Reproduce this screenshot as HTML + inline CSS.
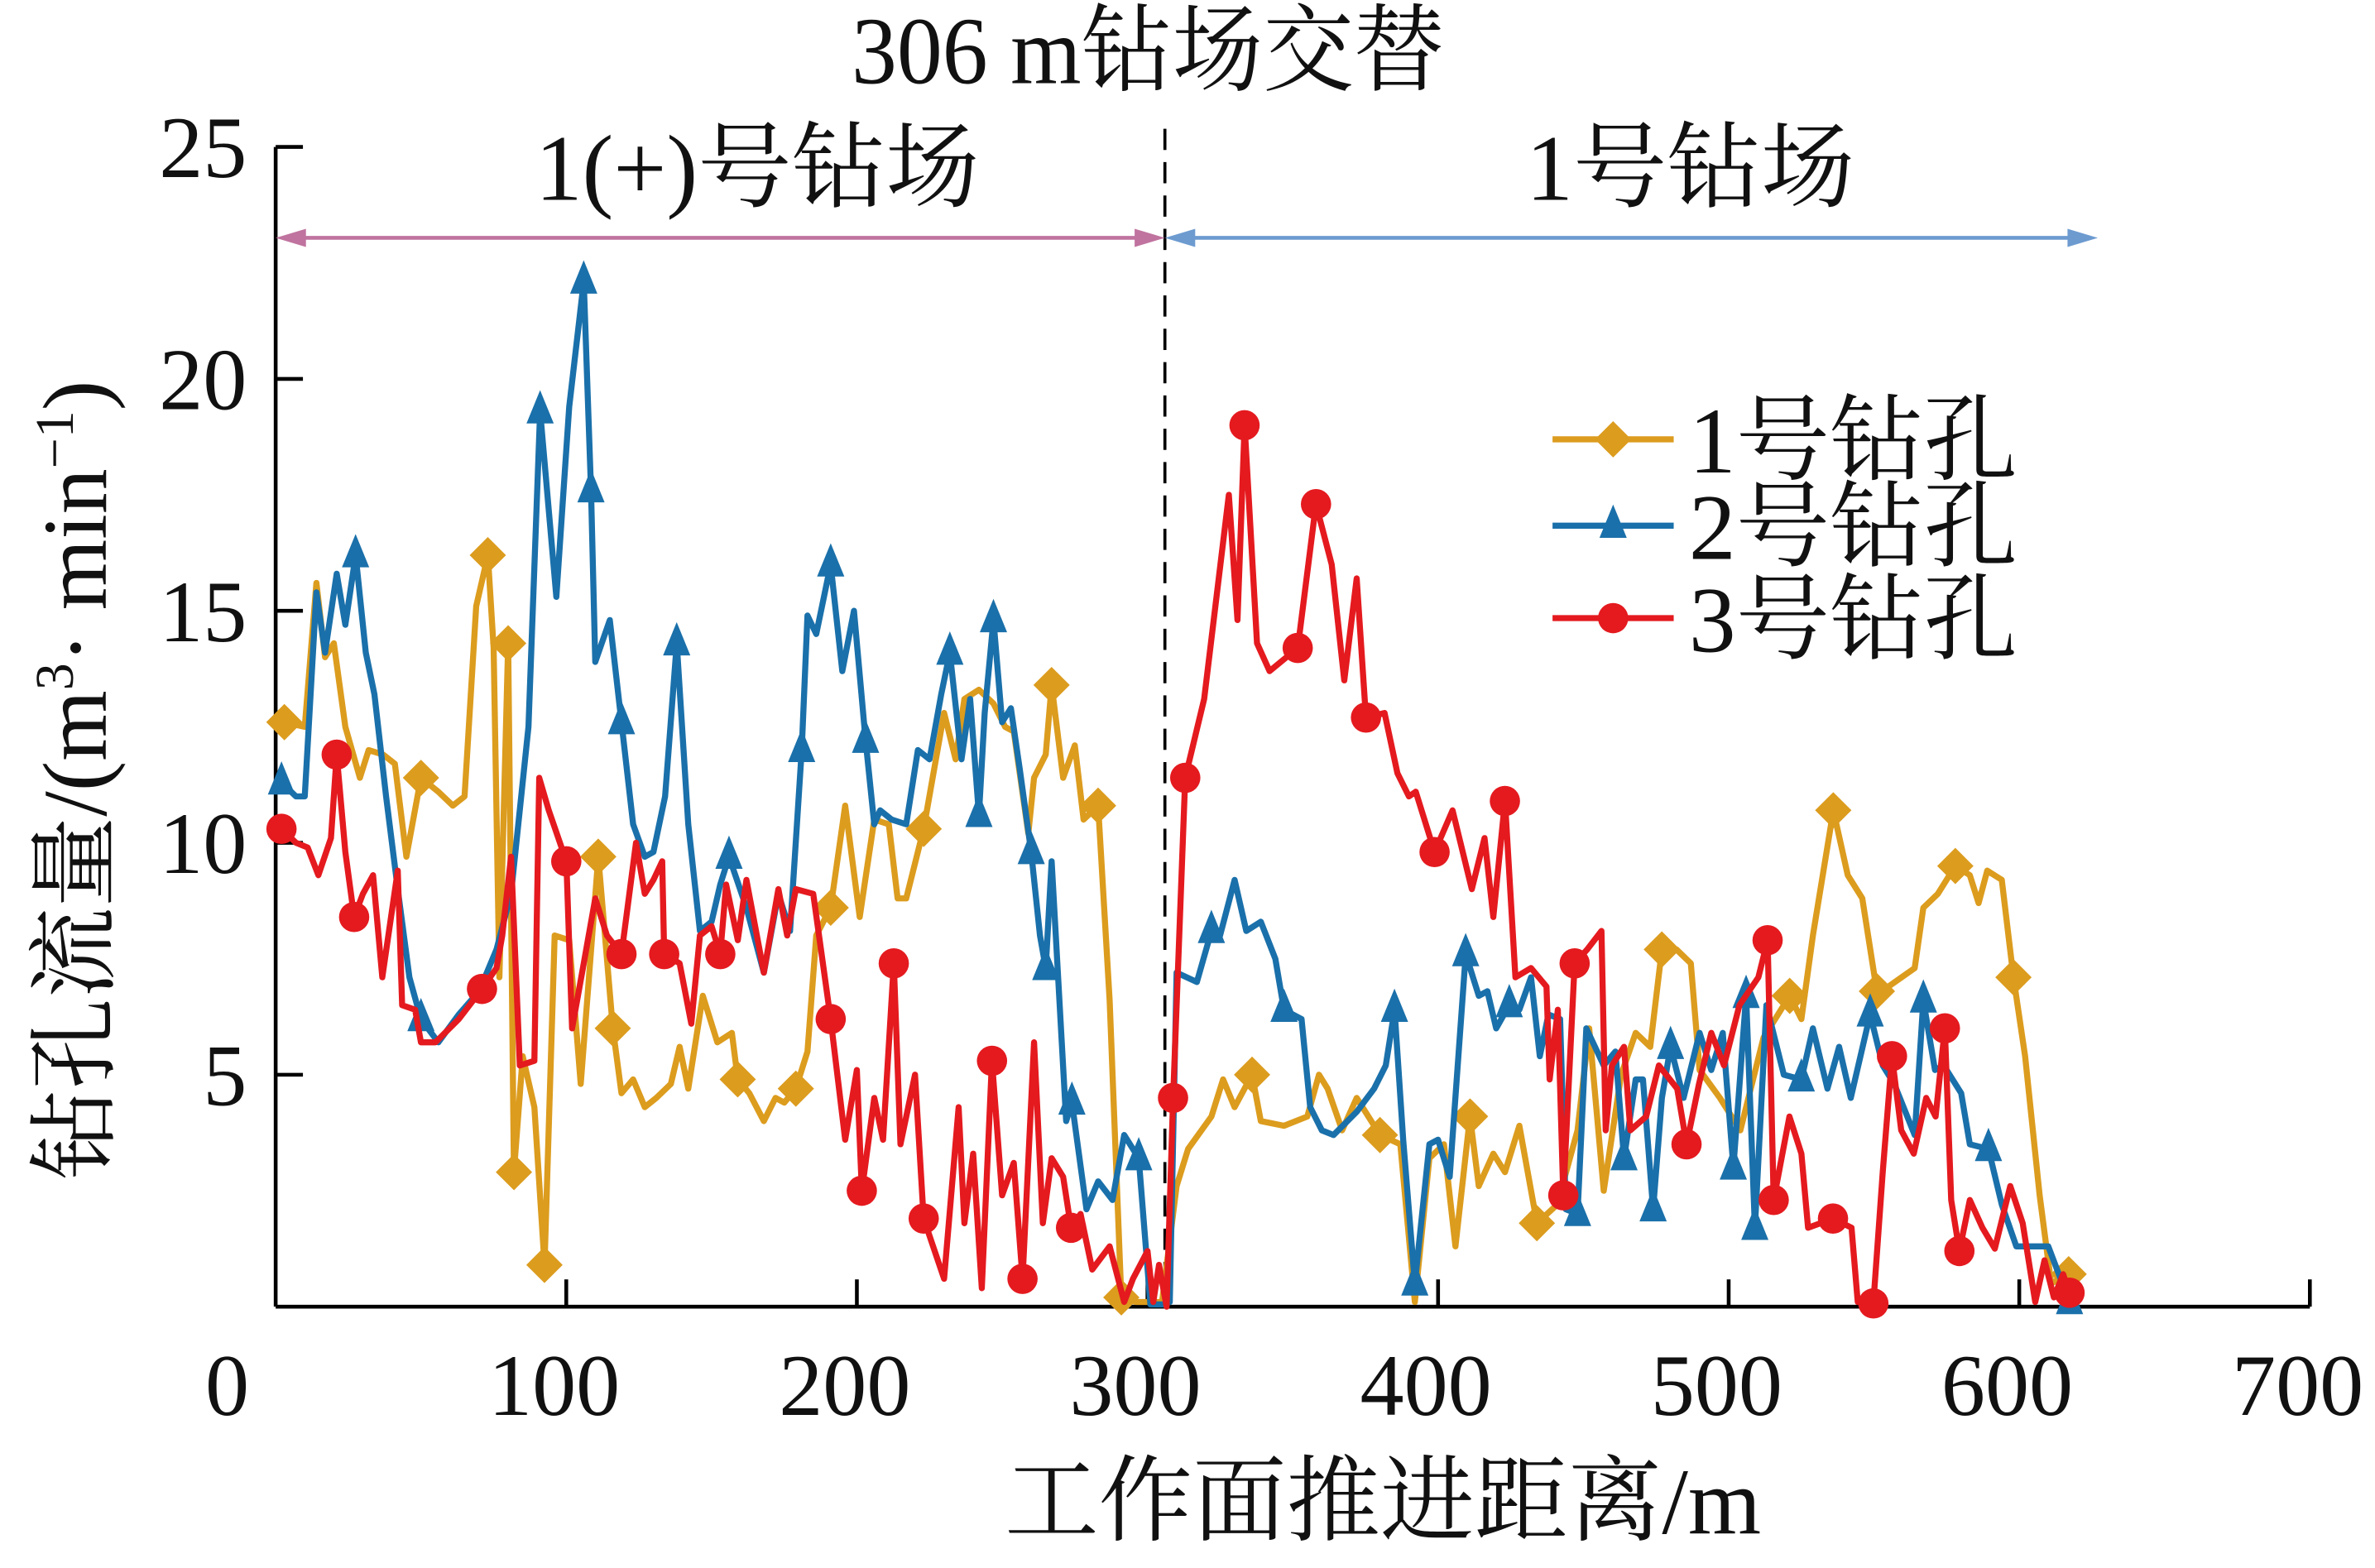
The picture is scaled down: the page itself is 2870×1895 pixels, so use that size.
<!DOCTYPE html>
<html><head><meta charset="utf-8"><style>
html,body{margin:0;padding:0;background:#fff;}
svg{display:block;}
text{font-family:"Liberation Serif","Noto Serif CJK SC","Noto Sans CJK SC",serif;fill:#111;}
</style></head><body>
<svg id="chart" width="2870" height="1895" viewBox="0 0 1568 1035" preserveAspectRatio="none" xmlns="http://www.w3.org/2000/svg">
<g id="axes"></g>
<g id="series"></g>
<text x="758" y="55" font-size="60" text-anchor="middle" transform="translate(758,55) scale(1,1.05) translate(-758,-55)">306 m钻场交替</text>
<text x="500" y="132" font-size="62" text-anchor="middle">1(+)号钻场</text>
<text x="1116" y="132" font-size="62" text-anchor="middle">1号钻场</text>
<text x="913" y="1012" font-size="62" text-anchor="middle">工作面推进距离/m</text>
<text transform="translate(70,515) rotate(-90)" font-size="60" text-anchor="middle">钻孔流量/(m<tspan font-size="36" dy="-22">3</tspan><tspan dy="22">· min</tspan><tspan font-size="36" dy="-22">−1</tspan><tspan dy="22">)</tspan></text>
</svg>
<script>
const xTicks=[0,100,200,300,400,500,600,700];
const yTicks=[5,10,15,20,25];
const switchX=306;
const x1=[3,10,14,17,20,24,29,32,37,41,45,50,56,61,65,69,73,75,77,80,82,85,89,92.5,96,101,105,111,116,119,123,127,131,136,139,142,147,152,157,159,163,168,172,175,179,183,186,191,196,201,206,211,214,217,223,230,234,237,242,247,251,254,259,261,265,267,271,275,278,283,287,291,296,305,310,314,322,326,330,336,339,347,355,359,362,367,372,380,387,392,397,402,406,411,414,419,423,428,434,441,448,452,457,463,468,473,477,482,487,490,497,504,512,521,525,529,536,541,546,551,555,564,567,572,578,583,586,589,594,598,602,607,611,617];
const y1=[12.6,12.5,15.6,14.0,14.3,12.5,11.4,12.0,11.9,11.7,9.7,11.4,11.1,10.8,11.0,15.1,16.2,14.2,7.1,14.3,2.9,5.4,4.3,0.9,8.0,7.9,4.8,9.7,6.0,4.6,4.9,4.3,4.5,4.8,5.6,4.7,6.7,5.7,5.9,4.9,4.6,4.0,4.5,4.4,4.7,5.5,8.0,8.6,10.8,8.4,10.5,10.4,8.8,8.8,10.3,12.8,11.8,13.1,13.3,13.0,12.5,12.4,10.2,11.4,11.9,13.4,11.4,12.1,10.5,10.8,6.6,0.2,0.1,0.1,2.6,3.4,4.1,4.9,4.3,5.0,4.0,3.9,4.1,5.0,4.7,3.8,4.5,3.7,3.5,0.1,3.2,3.5,1.3,4.1,2.6,3.3,2.9,3.9,1.8,2.2,3.8,6.0,2.5,5.0,5.9,5.6,7.7,7.7,7.4,5.1,4.5,3.8,5.8,6.7,6.2,8.0,10.7,9.3,8.8,6.8,6.9,7.3,8.6,8.9,9.5,9.3,8.7,9.4,9.2,7.1,5.4,2.4,0.5,0.7];
const mark1=[3,50,73,80,82,92.5,111,116,159,179,191,223,267,283,291,336,380,411,434,477,521,536,551,578,598,617];
const x2=[2,7,10,14,17,21,24,27.5,31,34,38,42,46,50,56,63,70,76,81,87,91,96.6,101,106,108.5,110,115,119,123,127,130,134,138,142,146,150,153,156,162,168,173,177,181,183,186,191,195,199,203,206,208,212,217,221,225,229,232,236,239,242,244,247,250,253,256,260,263,265,267,272,274,279,283,288,292,297,301,306,307.7,310,317,322,325,330,334,339,344,347,353,356,360,364,372,378,382,385,388,392,397,400,404,409.5,414,417,420,424.5,428,432,435,438,442,444,448,451,457,461,464,468,470.5,474,477,480,484.5,490,494,498,501.6,506,509,513,519,525,529,534,538,542,548.7,553,557,564,567,571,574,580,583,589.4,594,599,604,610,613,617.3];
const y2=[11.3,11.0,11.0,15.4,14.1,15.8,14.7,16.2,14.1,13.2,11.0,9.0,7.1,6.2,5.7,6.3,6.8,7.7,8.9,12.5,19.3,15.3,19.4,22.1,17.6,13.9,14.8,12.6,10.4,9.7,9.8,11.0,14.3,10.4,8.1,8.3,9.1,9.7,8.6,7.2,8.9,8.1,12.0,14.9,14.5,16.0,13.7,15.0,12.2,10.4,10.7,10.5,10.4,12.0,11.8,13.2,14.1,11.8,13.1,10.6,12.8,14.8,12.6,12.9,11.6,9.8,8.0,7.3,9.6,4.0,4.4,2.1,2.7,2.3,3.7,3.2,0.05,0.05,0.1,7.2,7.0,8.1,8.0,9.2,8.1,8.3,7.5,6.4,6.2,4.3,3.8,3.7,4.2,4.7,5.2,6.4,3.6,0.5,3.5,3.6,2.8,7.6,6.7,6.8,6.0,6.5,6.4,7.1,5.4,6.3,6.2,2.1,2.0,6.0,5.2,5.5,3.2,4.9,4.9,2.1,4.5,5.6,4.5,5.9,5.1,5.9,3.0,6.7,1.7,6.5,5.0,4.9,6.0,4.7,5.6,4.5,6.3,5.2,4.8,3.7,6.6,5.1,5.2,4.6,3.5,3.4,2.2,1.3,1.3,1.3,0.8,0.1];
const mark2=[2,27.5,50,91,106,108.5,119,138,156,181,191,203,232,242,247,260,265,274,297,322,347,385,392,409.5,424.5,448,464,474,480,501.6,506,509,525,548.7,567,589.4,617.3];
const x3=[2,7,11,14.7,19,21,24,27,30,33.5,36.7,42,43.5,48,50,55,63,71,76,78,81,84,89,90.7,94,100,102,106,110,114,119,124,127,130,133,133.7,139,143,146,150,153,155,159,162,168,173,176,179,185,191,196,200,201.7,206,209,212.7,215,220,223,230,235,237,240,243,246.5,250,254,257,261,264,267,271,273.7,277,281,287,292,295,300,302,304,306.6,308.8,313,319.5,328,331,333.4,337.7,342,351.7,358,363.4,367.7,372,375.2,381.6,386,390,392.3,398.8,405,411.6,416,419,423,426.6,432,437.3,438.4,441.2,443.1,447,451.3,456.2,457.7,459.8,464,466.2,471.6,476,482.3,485.5,489.8,494,498.4,503.7,510.2,513.4,515.5,520.9,525,527.3,531.6,535.9,542.3,544.4,549.8,553,556.2,559.4,563.7,568,571.2,574.4,576.6,579.4,583,587.3,591.6,596.9,601.2,605.5,608.7,611.9,615.1,617.3];
const y3=[10.3,10.0,9.9,9.3,10.1,11.9,9.8,8.4,8.9,9.3,7.1,9.4,6.5,6.4,5.7,5.7,6.2,6.85,7.3,8.0,9.7,5.2,5.3,11.4,10.7,9.6,6.0,7.4,8.8,8.0,7.6,10.0,8.9,9.2,9.6,7.6,7.4,6.1,8.0,8.2,7.6,9.1,7.9,9.2,7.2,9.0,8.0,9.0,8.9,6.2,3.6,5.1,2.5,4.5,3.6,7.4,3.5,5.0,1.9,0.6,4.3,1.8,3.3,0.4,5.3,2.4,3.1,0.6,5.7,1.8,3.2,2.8,1.7,2.0,0.8,1.3,0.1,0.6,1.2,0.1,0.9,0.0,4.5,11.4,13.1,17.5,14.8,19.0,14.3,13.7,14.2,17.3,16.0,13.5,15.7,12.7,12.8,11.5,11.0,11.1,9.8,10.7,9.0,10.1,8.4,10.9,7.1,7.3,6.9,4.9,6.4,2.4,7.4,7.7,8.1,3.8,5.2,5.6,3.8,4.1,5.2,4.7,3.5,4.8,5.9,5.2,6.5,7.1,7.9,2.3,4.1,3.3,1.7,1.8,1.9,1.7,0.1,0.07,2.9,5.4,3.8,3.3,4.5,4.1,6.0,2.3,1.2,2.3,1.7,1.25,2.6,1.8,0.1,1.0,0.2,0.7,0.3];
const mark3=[2,21,27,71,100,119,133.7,153,191,201.7,212.7,223,246.5,257,273.7,308.8,313,333.4,351.7,358,375.2,398.8,423,443.1,447,485.5,513.4,515.5,535.9,549.8,556.2,574.4,579.4,617.3];

const NS='http://www.w3.org/2000/svg';
const X0=182,X1=1525,Y0=862.5,Y1=97;
const sx=v=>X0+(v-0)/(700-0)*(X1-X0);
const sy=v=>Y0-(v-0)/(25-0)*(Y0-Y1);
function mk(tag,attrs,parent){const e=document.createElementNS(NS,tag);for(const k in attrs)e.setAttribute(k,attrs[k]);parent.appendChild(e);return e;}
const axes=document.getElementById('axes');
const ser=document.getElementById('series');
let e;
e=mk('line',{x1:X0,y1:Y1,x2:X0,y2:Y0,stroke:'#000','stroke-width':2.5},axes);


e=mk('line',{x1:X0,y1:Y0,x2:X1,y2:Y0,stroke:'#000','stroke-width':2.5},axes);


yTicks.forEach(t=>{
  e=mk('line',{x1:X0,y1:sy(t),x2:X0+18,y2:sy(t),stroke:'#000','stroke-width':2.5},axes);
  
  
  e=mk('text',{x:163,y:sy(t)+20,'font-size':58,'text-anchor':'end'},axes);e.textContent=t;
  
  
});
xTicks.forEach(t=>{
  if(t>0){e=mk('line',{x1:sx(t),y1:Y0,x2:sx(t),y2:Y0-18,stroke:'#000','stroke-width':2.5},axes);
  
  }
  const lx=t===0?150:sx(t)-8;
  e=mk('text',{x:lx,y:934,'font-size':58,'text-anchor':'middle'},axes);e.textContent=t;
  
  
});
e=mk('line',{x1:sx(switchX),y1:85,x2:sx(switchX),y2:Y0,stroke:'#000','stroke-width':2,'stroke-dasharray':'14,8'},axes);


function arrow(xa,xb,col,name){
  const g=mk('g',{},axes);
  
  
  mk('line',{x1:xa+10,y1:157,x2:xb-10,y2:157,stroke:col,'stroke-width':2.5},g);
  mk('polygon',{points:`${xa},157 ${xa+20},151 ${xa+20},163`,fill:col},g);
  mk('polygon',{points:`${xb},157 ${xb-20},151 ${xb-20},163`,fill:col},g);
}
arrow(X0,sx(switchX),'#c0739f','zone-arrow-left');
arrow(sx(switchX),1385,'#6d9bd0','zone-arrow-right');

function marker(type,cx,cy,col,parent){
  if(type==='d')return mk('polygon',{points:`${cx},${cy-12} ${cx+12},${cy} ${cx},${cy+12} ${cx-12},${cy}`,fill:col},parent);
  if(type==='t')return mk('polygon',{points:`${cx},${cy-14} ${cx+9},${cy+8} ${cx-9},${cy+8}`,fill:col},parent);
  return mk('circle',{cx:cx,cy:cy,r:10,fill:col},parent);
}
function nearestIdx(xs,v){let b=0;xs.forEach((x,i)=>{if(Math.abs(x-v)<Math.abs(xs[b]-v))b=i;});return b;}
function drawSeries(xs,ys,marks,col,type,name){
  const g=mk('g',{},ser);
  
  
  const n=Math.min(xs.length,ys.length);
  const pts=[];for(let i=0;i<n;i++)pts.push(sx(xs[i]).toFixed(1)+','+sy(ys[i]).toFixed(1));
  e=mk('polyline',{points:pts.join(' '),fill:'none',stroke:col,'stroke-width':4,'stroke-linejoin':'round'},g);
  
  
  marks.forEach(mv=>{
    const i=nearestIdx(xs.slice(0,n),mv);
    e=marker(type,sx(xs[i]),sy(ys[i]),col,g);
    
    
  });
}
drawSeries(x1,y1,mark1,'#dc9c1e','d','series-borehole-1');
drawSeries(x2,y2,mark2,'#1a70aa','t','series-borehole-2');
drawSeries(x3,y3,mark3,'#e41a1f','c','series-borehole-3');

const legendNames=['1号钻孔','2号钻孔','3号钻孔'];
const legCols=['#dc9c1e','#1a70aa','#e41a1f'];
const legTypes=['d','t','c'];
const legY=[290,347,408];
const lg=mk('g',{},document.getElementById('chart'));


legendNames.forEach((n,i)=>{
  const g=mk('g',{},lg);
  
  
  mk('line',{x1:1025,y1:legY[i],x2:1105,y2:legY[i],stroke:legCols[i],'stroke-width':4},g);
  marker(legTypes[i],1065,legY[i],legCols[i],g);
  const t=mk('text',{x:1115,y:legY[i]+22,'font-size':62},g);t.textContent=n;
});
</script>
</body></html>
